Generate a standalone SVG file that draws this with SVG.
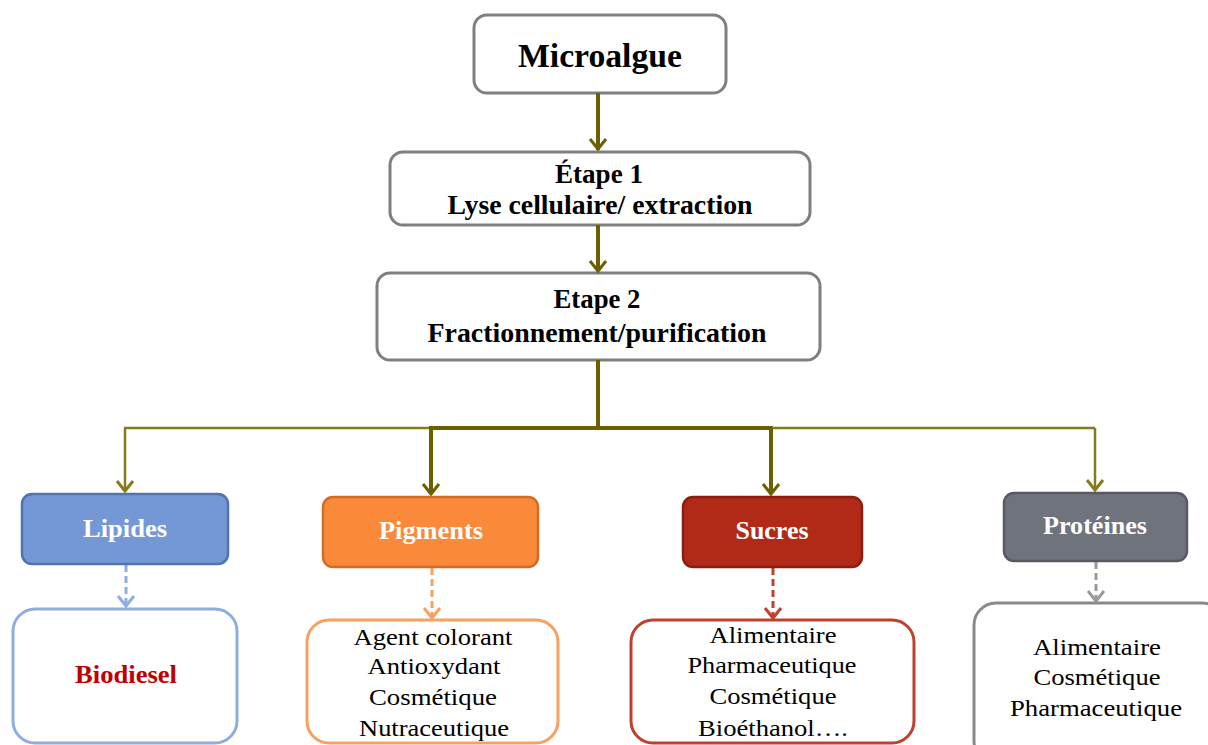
<svg xmlns="http://www.w3.org/2000/svg" width="1208" height="745" viewBox="0 0 1208 745">
<style>
.box{fill:#fff;stroke:#7f7f7f;stroke-width:3}
.t{font-family:"Liberation Serif","Times New Roman",serif;text-anchor:middle;fill:#000}
.b{font-weight:bold}
.w{fill:#fff;font-weight:bold}
.thick{stroke:#6b5f00;stroke-width:4;fill:none}
.thin{stroke:#857a1c;stroke-width:2.5;fill:none}
.ah{fill:none;stroke-width:3;stroke-linejoin:miter}
</style>
<g id="n-microalgue"><rect class="box" x="474" y="15" width="252" height="78" rx="13"/><text class="t b" x="600" y="67" font-size="33" textLength="164" lengthAdjust="spacingAndGlyphs">Microalgue</text></g>
<g id="n-etape1"><rect class="box" x="390" y="152" width="420" height="73" rx="13"/><text class="t b" x="599" y="183" font-size="27" textLength="88" lengthAdjust="spacingAndGlyphs">Étape 1</text><text class="t b" x="600" y="214" font-size="27" textLength="305" lengthAdjust="spacingAndGlyphs">Lyse cellulaire/ extraction</text></g>
<g id="n-etape2"><rect class="box" x="377" y="273" width="443" height="87" rx="13"/><text class="t b" x="597" y="308" font-size="27" textLength="87" lengthAdjust="spacingAndGlyphs">Etape 2</text><text class="t b" x="597" y="342" font-size="27" textLength="339" lengthAdjust="spacingAndGlyphs">Fractionnement/purification</text></g>

<g id="connectors">
<line class="thick" x1="598" y1="93" x2="598" y2="150"/>
<polyline class="ah" stroke="#6b5f00" points="590,139 598,149 606,139"/>
<line class="thick" x1="598" y1="225" x2="598" y2="271"/>
<polyline class="ah" stroke="#6b5f00" points="590,261 598,271 606,261"/>
<line class="thick" x1="598" y1="360" x2="598" y2="428"/>
<line class="thin" x1="124" y1="428" x2="431" y2="428"/>
<line class="thick" x1="429" y1="428" x2="773" y2="428"/>
<line class="thin" x1="771" y1="428" x2="1095" y2="428"/>
<line class="thin" x1="125" y1="428" x2="125" y2="491"/>
<polyline class="ah" stroke="#857a1c" points="117,481 125,491 133,481"/>
<line class="thick" x1="431" y1="428" x2="431" y2="494"/>
<polyline class="ah" stroke="#6b5f00" points="423,484 431,494 439,484"/>
<line class="thick" x1="771" y1="428" x2="771" y2="494"/>
<polyline class="ah" stroke="#6b5f00" points="763,484 771,494 779,484"/>
<line class="thin" x1="1095" y1="428" x2="1095" y2="490"/>
<polyline class="ah" stroke="#857a1c" points="1087,480 1095,490 1103,480"/>

<line x1="126" y1="565" x2="126" y2="606" stroke="#8faee0" stroke-width="3" stroke-dasharray="7,4"/>
<polyline class="ah" stroke="#8faee0" points="118,596 126,606 134,596"/>
<line x1="432" y1="568" x2="432" y2="618" stroke="#f9a060" stroke-width="3" stroke-dasharray="7,4"/>
<polyline class="ah" stroke="#f9a060" points="424,608 432,618 440,608"/>
<line x1="773" y1="568" x2="773" y2="618" stroke="#c04030" stroke-width="3" stroke-dasharray="7,4"/>
<polyline class="ah" stroke="#c04030" points="765,608 773,618 781,608"/>
<line x1="1096" y1="562" x2="1096" y2="601" stroke="#9a9a9a" stroke-width="3" stroke-dasharray="7,4"/>
<polyline class="ah" stroke="#9a9a9a" points="1088,591 1096,601 1104,591"/>
</g>

<g id="n-lipides"><rect x="22" y="494" width="206" height="70" rx="10" fill="#7498d6" stroke="#5272b0" stroke-width="2.5"/><text class="t w" x="125" y="537" font-size="25" textLength="84" lengthAdjust="spacingAndGlyphs">Lipides</text></g>
<g id="n-pigments"><rect x="323" y="497" width="215" height="70" rx="10" fill="#fa8a3a" stroke="#d26c24" stroke-width="2.5"/><text class="t w" x="431" y="539" font-size="25" textLength="104" lengthAdjust="spacingAndGlyphs">Pigments</text></g>
<g id="n-sucres"><rect x="683" y="497" width="179" height="70" rx="10" fill="#b02a17" stroke="#8c1e10" stroke-width="2.5"/><text class="t w" x="772" y="539" font-size="25" textLength="73" lengthAdjust="spacingAndGlyphs">Sucres</text></g>
<g id="n-proteines"><rect x="1004" y="493" width="183" height="68" rx="10" fill="#6f737b" stroke="#575a61" stroke-width="2.5"/><text class="t w" x="1095" y="534" font-size="25" textLength="104" lengthAdjust="spacingAndGlyphs">Protéines</text></g>

<g id="n-biodiesel"><rect x="13" y="609" width="224" height="134" rx="22" fill="#fff" stroke="#8faee0" stroke-width="3"/><text class="t b" x="126" y="683" font-size="25" style="fill:#c00000" textLength="102" lengthAdjust="spacingAndGlyphs">Biodiesel</text></g>
<g id="n-pig-uses"><rect x="307" y="620" width="251" height="123" rx="22" fill="#fff" stroke="#f9a060" stroke-width="3"/>
<text class="t" x="433" y="645" font-size="24" textLength="159" lengthAdjust="spacingAndGlyphs">Agent colorant</text>
<text class="t" x="434" y="674" font-size="24" textLength="133" lengthAdjust="spacingAndGlyphs">Antioxydant</text>
<text class="t" x="433" y="705" font-size="24" textLength="128" lengthAdjust="spacingAndGlyphs">Cosmétique</text>
<text class="t" x="434" y="736" font-size="24" textLength="150" lengthAdjust="spacingAndGlyphs">Nutraceutique</text></g>
<g id="n-suc-uses"><rect x="631" y="620" width="283" height="123" rx="22" fill="#fff" stroke="#c04030" stroke-width="3"/>
<text class="t" x="773" y="643" font-size="24" textLength="127" lengthAdjust="spacingAndGlyphs">Alimentaire</text>
<text class="t" x="772" y="673" font-size="24" textLength="169" lengthAdjust="spacingAndGlyphs">Pharmaceutique</text>
<text class="t" x="773" y="704" font-size="24" textLength="127" lengthAdjust="spacingAndGlyphs">Cosmétique</text>
<text class="t" x="773" y="736" font-size="24" textLength="150" lengthAdjust="spacingAndGlyphs">Bioéthanol….</text></g>
<g id="n-pro-uses"><rect x="974" y="603" width="250" height="160" rx="22" fill="#fff" stroke="#8a8a8a" stroke-width="3"/>
<text class="t" x="1097" y="655" font-size="24" textLength="128" lengthAdjust="spacingAndGlyphs">Alimentaire</text>
<text class="t" x="1097" y="685" font-size="24" textLength="127" lengthAdjust="spacingAndGlyphs">Cosmétique</text>
<text class="t" x="1096" y="716" font-size="24" textLength="172" lengthAdjust="spacingAndGlyphs">Pharmaceutique</text></g>
</svg>
